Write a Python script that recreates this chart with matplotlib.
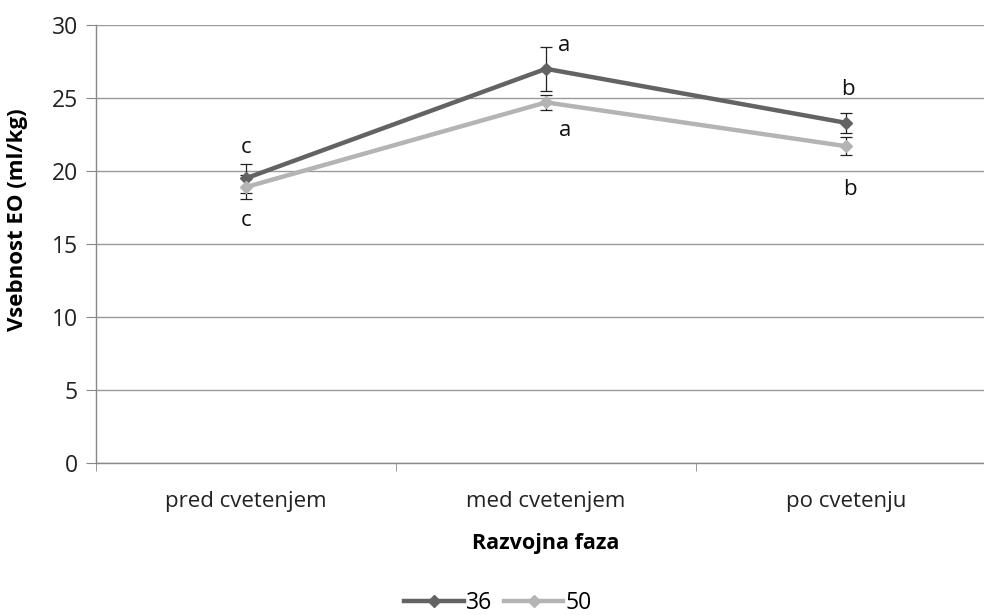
import matplotlib
matplotlib.use("Agg")
import matplotlib.pyplot as plt
import numpy as np

plt.rcParams['font.family'] = ['Open Sans', 'DejaVu Sans']

categories = ["pred cvetenjem", "med cvetenjem", "po cvetenju"]
series_names = ["36", "50"]
values_36 = [19.5, 27.0, 23.3]
errors_36 = [1.0, 1.5, 0.7]
values_50 = [18.9, 24.7, 21.7]
errors_50 = [0.8, 0.5, 0.6]
letters_36 = ["c", "a", "b"]
letters_50 = ["c", "a", "b"]

fig = plt.figure(figsize=(9.84, 6.15), dpi=100)
ax = fig.add_axes([96/984, 1 - 463/615, 900/984, 438/615])

x = np.arange(len(categories))
colors = ["#636363", "#b4b4b4"]

for vals, errs, col, name in [(values_36, errors_36, colors[0], series_names[0]),
                              (values_50, errors_50, colors[1], series_names[1])]:
    ax.errorbar(x, vals, yerr=errs, fmt='none', ecolor='#222222', elinewidth=0.9,
                capsize=4.5, capthick=0.9, zorder=3)
    ax.plot(x, vals, color=col, lw=3.2, marker='D', markersize=6.5,
            label=name, zorder=4)

# significance letters above the 36 series and below the 50 series
shift_36 = [(0, 1.1), (0.06, 0.1), (0.005, 1.6)]
shift_50 = [(0, -2.3), (0.065, -2.25), (0.013, -3.15)]
for i, (v, e, t) in enumerate(zip(values_36, errors_36, letters_36)):
    dx, dy = shift_36[i]
    ax.text(x[i] + dx, v + e + dy, t, ha='center', va='center', fontsize=16,
            color='#111111')
for i, (v, e, t) in enumerate(zip(values_50, errors_50, letters_50)):
    dx, dy = shift_50[i]
    ax.text(x[i] + dx, v + dy + (0.8 - e), t, ha='center', va='center',
            fontsize=16, color='#111111')

ax.set_xlim(-0.5, 2.5)
ax.set_ylim(0, 30)
ax.set_yticks(np.arange(0, 31, 5))
ax.set_xticks(x)
ax.set_xticklabels(categories)
ax.set_xticks([-0.5, 0.5, 1.5, 2.5], minor=True)
ax.tick_params(axis='x', which='major', length=0, pad=20, labelsize=16,
               labelcolor='#222222')
ax.tick_params(axis='x', which='minor', length=6, color='#888888', direction='out')
ax.tick_params(axis='y', length=7, color='#888888', labelsize=16.5, pad=6,
               labelcolor='#222222')

ax.grid(axis='y', color='#9a9a9a', lw=1.0)
ax.set_axisbelow(True)
for s in ['top', 'right']:
    ax.spines[s].set_visible(False)
for s in ['left', 'bottom']:
    ax.spines[s].set_color('#888888')
    ax.spines[s].set_linewidth(1.0)

ax.set_ylabel("Vsebnost EO (ml/kg)", fontsize=16, fontweight='bold')
ax.yaxis.set_label_coords(-0.075, 0.555)
ax.set_xlabel("Razvojna faza", fontsize=15.5, fontweight='bold', labelpad=15)

fig.legend(loc='center', bbox_to_anchor=(498/984, 1 - 603/615), ncol=2,
           frameon=False, fontsize=16.5, handlelength=2.6, handletextpad=0.1,
           columnspacing=0.5, borderpad=0)

fig.savefig("out.png", dpi=100)
